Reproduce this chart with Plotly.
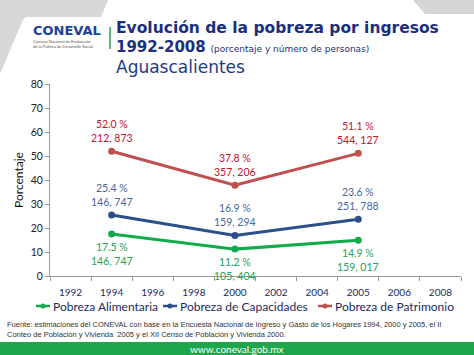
import plotly.graph_objects as go

# ---------------- data ----------------
years = ["1992", "1994", "1996", "1998", "2000", "2002", "2004", "2005", "2006", "2008"]
data_years = ["1994", "2000", "2005"]

alimentaria_pct = [17.5, 11.2, 14.9]
alimentaria_personas = ["146, 747", "105, 404", "159, 017"]

capacidades_pct = [25.4, 16.9, 23.6]
capacidades_personas = ["146, 747", "159, 294", "251, 788"]

patrimonio_pct = [52.0, 37.8, 51.1]
patrimonio_personas = ["212, 873", "357, 206", "544, 127"]

series_names = ["Pobreza Alimentaria", "Pobreza de Capacidades", "Pobreza de Patrimonio"]
y_ticks = [0, 10, 20, 30, 40, 50, 60, 70, 80]

# ---------------- styling ----------------
W, H = 474, 355
L, R, T, B = 50, 13, 84, 79
PW, PH = W - L - R, H - T - B
FONT = "Lato"
TFONT = "DejaVu Sans"
NAVY = "#1b2f7e"

line_colors = ["#12ab4b", "#2c4f8c", "#c0504d"]
label_colors = ["#22a356", "#46679f", "#c4142f"]


def px(x):
    return (x - L) / PW


def py(y):
    return (H - B - y) / PH


fig = go.Figure()

series = [
    (alimentaria_pct, alimentaria_personas),
    (capacidades_pct, capacidades_personas),
    (patrimonio_pct, patrimonio_personas),
]

for i, (vals, pers) in enumerate(series):
    fig.add_trace(go.Scatter(
        x=data_years, y=vals, mode="lines+markers", name=series_names[i],
        line=dict(color=line_colors[i], width=3),
        marker=dict(color=line_colors[i], size=7),
        showlegend=False, cliponaxis=False,
    ))
    below = (i == 0)
    for xv, yv, pv in zip(data_years, vals, pers):
        fig.add_annotation(
            x=years.index(xv), y=yv, xref="x", yref="y",
            text=f"{yv:.1f} %<br>{pv}", showarrow=False,
            yanchor="top" if below else "bottom",
            yshift=-5 if below else 5,
            font=dict(family=FONT, size=10.5, color=label_colors[i]),
            align="center",
        )

# ---------------- decorations ----------------
shapes = []
# top-left grey corner
shapes.append(dict(
    type="path", xref="paper", yref="paper",
    path=f"M {px(0)},{py(0)} L {px(108)},{py(0)} L {px(101)},{py(17)} L {px(28)},{py(17)} "
         f"Q {px(24)},{py(17)} {px(22)},{py(22)} L {px(0)},{py(74)} Z",
    fillcolor="#d7d8d8", line=dict(width=0), layer="below",
))
# top-right grey corner
shapes.append(dict(
    type="path", xref="paper", yref="paper",
    path=f"M {px(413)},{py(0)} L {px(474)},{py(0)} L {px(474)},{py(14)} L {px(425)},{py(14)} Z",
    fillcolor="#d4d5d5", line=dict(width=0), layer="below",
))
# green separator bar next to logo
shapes.append(dict(
    type="line", xref="paper", yref="paper",
    x0=px(110), x1=px(110), y0=py(27), y1=py(49),
    line=dict(color="#2aa65a", width=1.5),
))
# green footer
shapes.append(dict(
    type="rect", xref="paper", yref="paper",
    x0=px(0), x1=px(474), y0=py(342), y1=py(355),
    fillcolor="#1fa64b", line=dict(width=0), layer="below",
))

# legend (manual, compact symbols)
legend_x = [36, 163, 318]
LEG_Y = 306
for i, lx in enumerate(legend_x):
    shapes.append(dict(
        type="line", xref="paper", yref="paper",
        x0=px(lx), x1=px(lx + 14), y0=py(LEG_Y), y1=py(LEG_Y),
        line=dict(color=line_colors[i], width=2.5),
    ))
    shapes.append(dict(
        type="circle", xref="paper", yref="paper",
        x0=px(lx + 4.5), x1=px(lx + 9.5), y0=py(LEG_Y - 2.5), y1=py(LEG_Y + 2.5),
        fillcolor=line_colors[i], line=dict(width=0),
    ))
    fig.add_annotation(
        x=px(lx + 15), y=py(LEG_Y), xref="paper", yref="paper",
        text=series_names[i], showarrow=False, xanchor="left", yanchor="middle",
        font=dict(family=FONT, size=12, color="#1c2a5e"),
    )

# title texts
fig.add_annotation(
    x=px(114), y=py(28), xref="paper", yref="paper", showarrow=False,
    xanchor="left", yanchor="middle",
    text="<b>Evolución de la pobreza por ingresos</b>",
    font=dict(family=TFONT, size=15.5, color=NAVY),
)
fig.add_annotation(
    x=px(114), y=py(47), xref="paper", yref="paper", showarrow=False,
    xanchor="left", yanchor="middle",
    text="<b>1992-2008</b> <span style='font-size:9px'>(porcentaje y número de personas)</span>",
    font=dict(family=TFONT, size=15, color=NAVY),
)
fig.add_annotation(
    x=px(114), y=py(67), xref="paper", yref="paper", showarrow=False,
    xanchor="left", yanchor="middle",
    text="Aguascalientes",
    font=dict(family=TFONT, size=17, color="#1e3a86"),
)
# logo
fig.add_annotation(
    x=px(31), y=py(30), xref="paper", yref="paper", showarrow=False,
    xanchor="left", yanchor="middle",
    text="<b>CONEVAL</b>",
    font=dict(family="DejaVu Sans", size=13, color="#20409a"),
)
fig.add_annotation(
    x=px(31), y=py(44), xref="paper", yref="paper", showarrow=False,
    xanchor="left", yanchor="middle", align="left",
    text="Consejo Nacional de Evaluación<br>de la Política de Desarrollo Social",
    font=dict(family="Liberation Sans", size=4, color="#555555"),
)
# footnote
fig.add_annotation(
    x=px(5), y=py(329), xref="paper", yref="paper", showarrow=False,
    xanchor="left", yanchor="middle", align="left",
    text="Fuente: estimaciones del CONEVAL con base en la Encuesta Nacional de Ingreso y Gasto de los Hogares 1994, 2000 y 2005, el II"
         "<br>Conteo de Población y Vivienda  2005 y el XII Censo de Población y Vivienda 2000.",
    font=dict(family="Liberation Sans", size=7.5, color="#333333"),
)
# footer url
fig.add_annotation(
    x=px(237), y=py(349), xref="paper", yref="paper", showarrow=False,
    xanchor="center", yanchor="middle",
    text="www.coneval.gob.mx",
    font=dict(family=FONT, size=10, color="#ffffff"),
)

fig.update_layout(
    width=W, height=H,
    margin=dict(l=L, r=R, t=T, b=B, pad=0),
    paper_bgcolor="#ffffff", plot_bgcolor="#ffffff",
    shapes=shapes, showlegend=False,
    xaxis=dict(
        type="category", categoryorder="array", categoryarray=years,
        tickmode="array", tickvals=years, ticktext=years,
        range=[-0.5, len(years) - 0.5],
        showline=True, linecolor="#9a9a9a", linewidth=1,
        ticks="outside", ticklen=4, tickcolor="#9a9a9a", tickson="boundaries",
        showgrid=False, zeroline=False, ticklabelstandoff=7,
        tickfont=dict(family=FONT, size=10, color="#1c2a5e"),
    ),
    yaxis=dict(
        range=[0, 80], tickvals=y_ticks,
        showline=True, linecolor="#9a9a9a", linewidth=1,
        ticks="outside", ticklen=4, tickcolor="#9a9a9a",
        showgrid=False, zeroline=False,
        tickfont=dict(family=FONT, size=10.5, color="#222222"),
        title=dict(text="Porcentaje", standoff=4,
                   font=dict(family=FONT, size=12, color="#111111")),
    ),
)

fig.write_html("out.html", config={"displayModeBar": False},
               post_script="document.body.style.margin='0';")
